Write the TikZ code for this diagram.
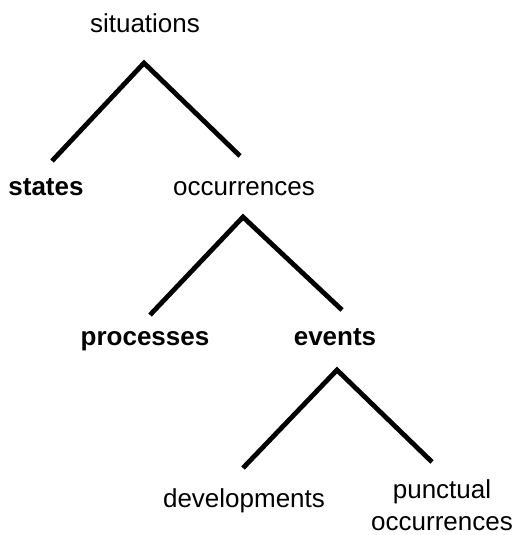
\documentclass[tikz,border=0pt]{standalone}
\usepackage{fontspec}
\setmainfont{Liberation Sans}
\usepackage{tikz}
\usetikzlibrary{calc}
\tikzset{
  label/.style={inner sep=0pt, anchor=base, font=\fontsize{13}{16}\selectfont},
  boldlabel/.style={label, font=\fontsize{13}{16}\selectfont\bfseries},
  branchline/.style={line width=2.4pt, line join=miter}
}
\newcommand{\fork}[3]{ \draw[branchline] (#2) -- (#1) -- (#3);}

\begin{document}
\begin{tikzpicture}[x=0.5pt,y=-0.5pt]
        \useasboundingbox (0,0) rectangle (515,535);

        % labels
        \node[label] (situations) at (145,33) {situations};
        \node[boldlabel] (states) at (46,195) {states};
        \node[label] (occurrences) at (244,195) {occurrences};
        \node[boldlabel] (processes) at (145,345) {processes};
        \node[boldlabel] (events) at (335,345) {events};
        \node[label] (developments) at (244,507) {developments};
        \node[label, align=center] (punctual) at (442,530) {punctual\\occurrences};

        % branch points
        \coordinate (top1) at (144,63);
        \coordinate (left1) at (52,161);
        \coordinate (right1) at (240,156);
        \coordinate (top2) at (243,217);
        \coordinate (left2) at (150,315);
        \coordinate (right2) at (342,310);
        \coordinate (top3) at (337,370);
        \coordinate (left3) at (243,468);
        \coordinate (right3) at (432,462);

        % branches
        \fork{top1}{left1}{right1}
        \fork{top2}{left2}{right2}
        \fork{top3}{left3}{right3}
\end{tikzpicture}
\end{document}
